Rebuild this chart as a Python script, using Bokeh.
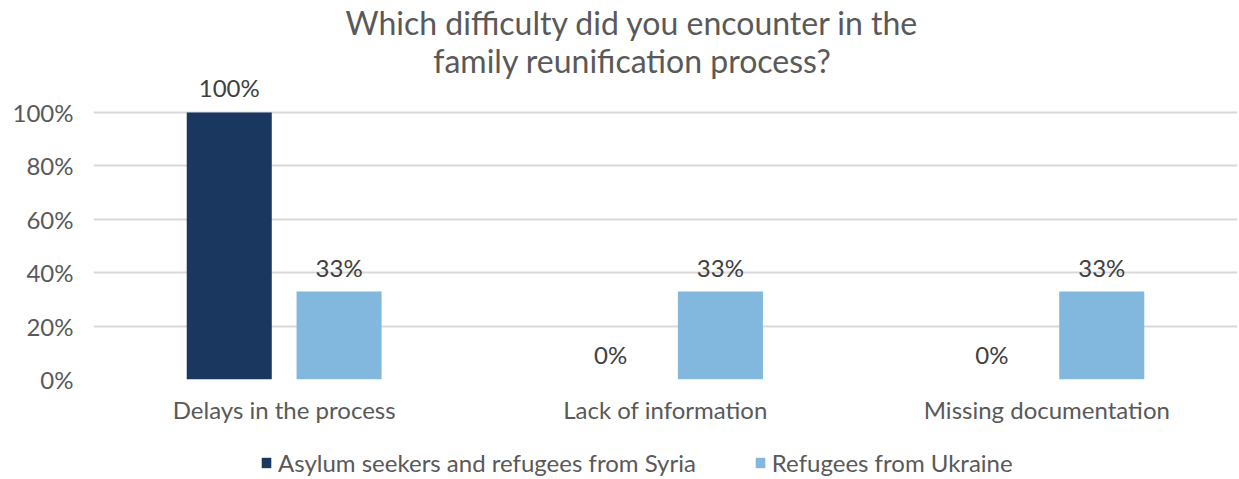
from bokeh.plotting import figure
from bokeh.layouts import column
from bokeh.models import ColumnDataSource, Legend, LegendItem, Label, FixedTicker, NumeralTickFormatter
from bokeh.transform import dodge
from bokeh.core.properties import value
from bokeh.embed import file_html
from bokeh.resources import INLINE

categories = ["Delays in the process", "Lack of information", "Missing documentation"]
syria = [1.00, 0.00, 0.00]
ukraine = [0.33, 0.33, 0.33]
syria_labels = ["100%", "0%", "0%"]
ukraine_labels = ["33%", "33%", "33%"]
series_names = ["Asylum seekers and refugees from Syria", "Refugees from Ukraine"]
series_colors = ["#1a3760", "#82b8dd"]
y_ticks = [0, 0.2, 0.4, 0.6, 0.8, 1.0]
title_lines = ["Which difficulty did you encounter in the", "family reunification process?"]

FONT = "Lato"
src = ColumnDataSource(dict(cat=categories, syria=syria, ukraine=ukraine,
                            sl=syria_labels, ul=ukraine_labels))

p = figure(x_range=categories, y_range=(0, 1.42), width=1239, height=430,
           output_backend="svg", toolbar_location=None,
           min_border_left=93, min_border_right=2, min_border_top=0, min_border_bottom=51)
p.outline_line_color = None

p.vbar(x=dodge("cat", -0.144, range=p.x_range), top="syria", width=0.223, source=src,
       fill_color=series_colors[0], line_color=None)
p.vbar(x=dodge("cat", 0.144, range=p.x_range), top="ukraine", width=0.223, source=src,
       fill_color=series_colors[1], line_color=None)

p.text(x=dodge("cat", -0.144, range=p.x_range), y="syria", text="sl", source=src,
       text_font=value(FONT), text_font_size="24px", text_color="#404040",
       text_align="center", text_baseline="middle", y_offset=-25)
p.text(x=dodge("cat", 0.144, range=p.x_range), y="ukraine", text="ul", source=src,
       text_font=value(FONT), text_font_size="24px", text_color="#404040",
       text_align="center", text_baseline="middle", y_offset=-24)

p.yaxis.ticker = FixedTicker(ticks=y_ticks)
p.yaxis.formatter = NumeralTickFormatter(format="0%")
for ax in (p.xaxis[0], p.yaxis[0]):
    ax.axis_line_color = None
    ax.major_tick_line_color = None
    ax.minor_tick_line_color = None
    ax.major_tick_out = 0
    ax.major_tick_in = 0
    ax.major_label_text_font = FONT
    ax.major_label_text_font_size = "24px"
    ax.major_label_text_color = "#595959"
p.yaxis.major_label_standoff = 20
p.xaxis.major_label_standoff = 15

p.xgrid.grid_line_color = None
p.ygrid.ticker = FixedTicker(ticks=y_ticks)
p.ygrid.grid_line_color = "#d9d9d9"
p.ygrid.grid_line_width = 2

for txt, yy in zip(title_lines, [357, 319]):
    p.add_layout(Label(x=539, y=yy, x_units="screen", y_units="screen", text=txt,
                       text_font=FONT, text_font_size="32px", text_color="#595959",
                       text_align="center", text_baseline="middle"))

# legend strip (its frame is aligned with the main frame by the column layout)
pl = figure(width=1239, height=49, x_range=(0, 1), y_range=(0, 1),
            output_backend="svg", toolbar_location=None,
            x_axis_location=None, y_axis_location=None,
            min_border_left=0, min_border_right=0, min_border_top=0, min_border_bottom=0)
pl.outline_line_color = None
pl.grid.grid_line_color = None
lr = [pl.vbar(x=[5], top=[0], width=0.1, fill_color=c, line_color=None) for c in series_colors]
legend = Legend(items=[LegendItem(label=n, renderers=[r]) for n, r in zip(series_names, lr)],
                orientation="horizontal", location=(167, 2),
                label_text_font=FONT, label_text_font_size="24px", label_text_color="#595959",
                glyph_width=12, glyph_height=13, label_standoff=6, spacing=58,
                padding=0, margin=0, border_line_color=None, background_fill_alpha=0)
pl.add_layout(legend, "center")

layout = column(p, pl, spacing=0)
open("out.html", "w").write(file_html(layout, INLINE))
